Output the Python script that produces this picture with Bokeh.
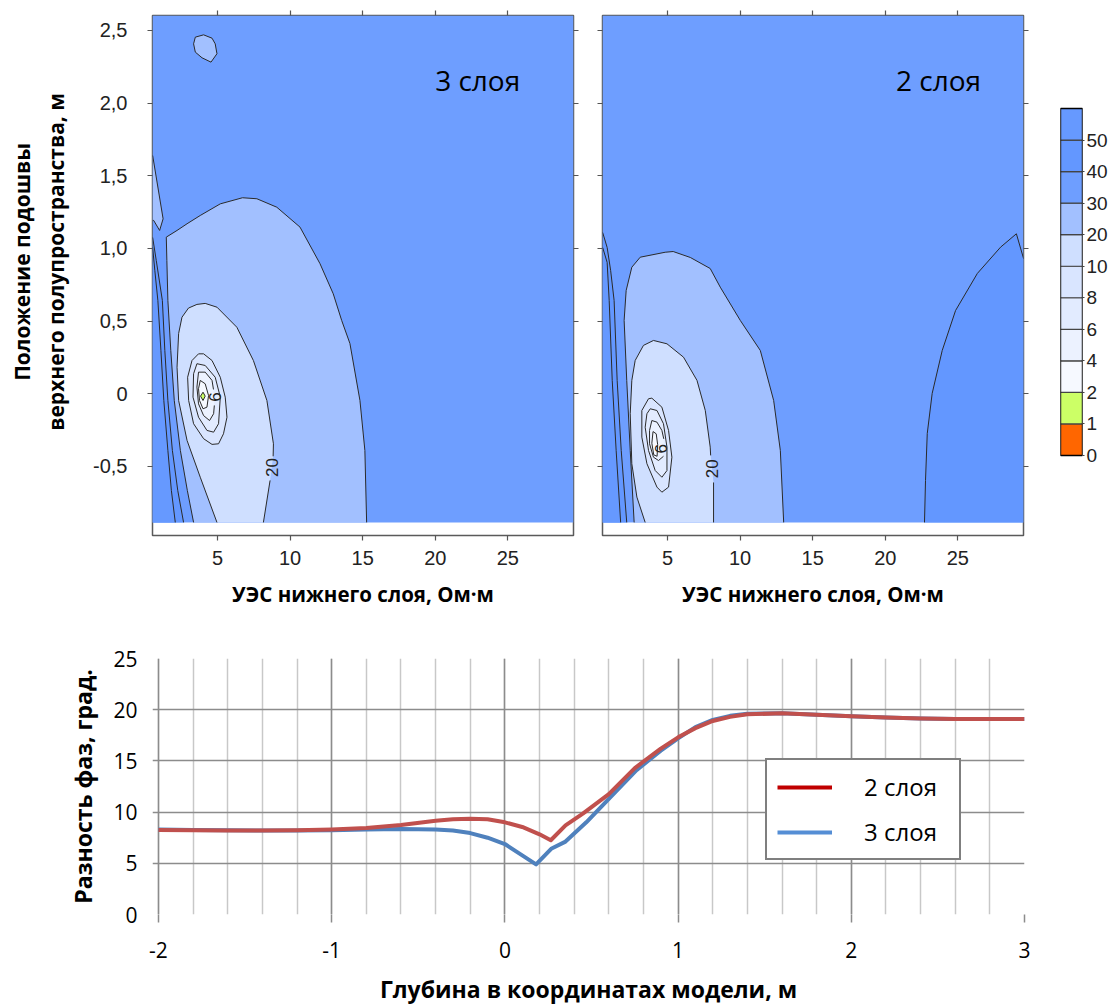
import math
from bokeh.plotting import figure
from bokeh.models import Range1d, LinearAxis, FixedTicker, Legend, LegendItem
from bokeh.layouts import row, column
from bokeh.embed import file_html
from bokeh.resources import INLINE
from bokeh.core.properties import value

# ------------------------------------------------------------------ data
# top panels: axes
rho_ticks = [5, 10, 15, 20, 25]
pos_ticks = [-0.5, 0.0, 0.5, 1.0, 1.5, 2.0, 2.5]
pos_tick_labels = ["-0,5", "0", "0,5", "1,0", "1,5", "2,0", "2,5"]
RHO_LO, RHO_HI = 0.52, 29.52
POS_LO, POS_HI = -0.975, 2.603
POS_DATA_BOTTOM = -0.885
panel_titles = ["3 слоя", "2 слоя"]

# colour scale: band i lies between level_labels[i] and level_labels[i+1] (last band: > 50)
level_labels = ["0", "1", "2", "4", "6", "8", "10", "20", "30", "40", "50"]
band_colors = ["#FF6600", "#CCFF66", "#F6F9FF", "#ECF2FF", "#E2EBFF", "#D9E5FF",
               "#CFDFFF", "#A2C0FF", "#6E9EFF", "#6397FF", "#6699FF"]

# ---- 3 layers: contour lines (resistivity, position)
c3_l50_x = [0.53, 0.68, 0.89, 1.10, 1.30, 1.58, 1.82, 2.09]
c3_l50_y = [1.007, 0.849, 0.642, 0.298, -0.046, -0.390, -0.665, -0.885]
c3_l40_x = [0.53, 0.78, 1.20, 1.37, 1.58, 1.89, 2.26, 2.66]
c3_l40_y = [1.076, 0.917, 0.642, 0.298, -0.046, -0.390, -0.665, -0.885]
c3_sliver_x = [0.53, 1.25, 1.01, 0.60, 0.53]
c3_sliver_y = [1.640, 1.204, 1.124, 1.193, 1.193]
c3_island_x = [3.47, 4.04, 4.62, 4.84, 4.96, 4.55, 3.93, 3.47, 3.35]
c3_island_y = [2.454, 2.470, 2.447, 2.408, 2.340, 2.282, 2.312, 2.351, 2.408]
c3_l30_x = [3.35, 2.92, 2.44, 2.02, 1.78, 1.58, 1.51, 1.47, 2.21, 2.90, 3.81, 5.19, 6.72,
            7.71, 9.08, 10.68, 12.06, 12.97, 13.55, 14.12, 14.81, 15.15, 15.27]
c3_l30_y = [-0.885, -0.665, -0.390, -0.046, 0.298, 0.642, 0.917, 1.078, 1.124, 1.170, 1.227,
            1.307, 1.349, 1.342, 1.284, 1.147, 0.895, 0.688, 0.505, 0.346, -0.046, -0.390, -0.885]
c3_l20_x = [4.96, 3.81, 2.90, 2.32, 2.21, 2.32, 2.55, 3.00, 3.58, 4.15, 4.96, 6.33, 7.47,
            8.40, 8.85, 8.83, 8.62, 8.16]
c3_l20_y = [-0.885, -0.574, -0.321, -0.046, 0.183, 0.415, 0.527, 0.590, 0.615, 0.622, 0.596,
            0.458, 0.229, -0.046, -0.344, -0.430, -0.596, -0.885]
c3_l10_x = [3.69, 4.04, 4.62, 5.19, 5.53, 5.65, 5.41, 5.07, 4.62, 4.04, 3.35, 3.01, 2.94, 3.24]
c3_l10_y = [0.275, 0.275, 0.229, 0.114, -0.023, -0.161, -0.275, -0.344, -0.348, -0.309,
            -0.206, -0.046, 0.114, 0.229]
c3_l8_x = [3.58, 4.15, 4.84, 5.19, 5.07, 4.73, 4.27, 3.69, 3.31, 3.35]
c3_l8_y = [0.207, 0.195, 0.114, -0.023, -0.206, -0.264, -0.252, -0.161, -0.023, 0.138]
c3_l6_x = [3.69, 4.15, 4.62, 4.72, 4.78, 4.73, 4.45, 4.04, 3.69, 3.58]
c3_l6_y = [0.149, 0.149, 0.092, 0.030, -0.080, -0.137, -0.184, -0.150, -0.069, 0.046]
c3_l4_x = [3.81, 4.15, 4.38, 4.27, 4.00, 3.76, 3.69]
c3_l4_y = [0.092, 0.069, -0.012, -0.092, -0.103, -0.046, 0.035]
c3_l2_x = [4.00, 4.15, 4.00, 3.83]
c3_l2_y = [0.011, -0.016, -0.046, -0.016]

# ---- 2 layers
c2_l50_x = [0.53, 0.84, 0.98, 1.19, 1.46, 1.77]
c2_l50_y = [1.007, 0.904, 0.642, 0.092, -0.390, -0.885]
c2_l40_x = [0.53, 0.84, 1.08, 1.32, 1.53, 1.81, 2.19]
c2_l40_y = [1.110, 1.007, 0.849, 0.642, 0.092, -0.390, -0.885]
c2_l30_x = [2.70, 2.43, 2.19, 2.01, 2.15, 2.54, 3.12, 4.84, 5.39, 6.57, 7.94, 8.63, 10.01,
            11.39, 12.31, 12.77, 13.00]
c2_l30_y = [-0.885, -0.390, 0.092, 0.505, 0.711, 0.871, 0.940, 0.974, 0.979, 0.938, 0.862,
            0.734, 0.505, 0.298, -0.046, -0.390, -0.885]
c2_l20_x = [3.46, 2.89, 2.54, 2.43, 2.54, 2.77, 3.34, 4.03, 4.96, 6.10, 7.03, 7.60, 7.94,
            7.97, 8.17, 8.17]
c2_l20_y = [-0.885, -0.711, -0.481, -0.137, 0.092, 0.229, 0.333, 0.367, 0.344, 0.252, 0.092,
            -0.115, -0.367, -0.424, -0.610, -0.885]
c2_l10_x = [3.69, 3.92, 4.61, 5.07, 5.30, 5.07, 4.61, 4.27, 3.58, 3.23, 3.23]
c2_l10_y = [-0.034, -0.030, -0.092, -0.252, -0.436, -0.642, -0.677, -0.642, -0.481, -0.298, -0.115]
c2_l8_x = [3.81, 4.27, 4.72, 4.96, 4.96, 4.61, 4.15, 3.69, 3.46, 3.58]
c2_l8_y = [-0.103, -0.115, -0.206, -0.367, -0.528, -0.574, -0.528, -0.390, -0.230, -0.137]
c2_l6_x = [3.92, 4.27, 4.61, 4.74, 4.72, 4.38, 4.03, 3.76, 3.76]
c2_l6_y = [-0.184, -0.195, -0.252, -0.310, -0.430, -0.459, -0.436, -0.344, -0.252]
c2_l4_x = [4.00, 4.22, 4.32, 4.28, 4.05, 3.92]
c2_l4_y = [-0.260, -0.275, -0.350, -0.430, -0.420, -0.340]
c2_r40_x = [22.70, 22.77, 22.89, 23.23, 23.92, 24.84, 26.34, 27.94, 29.03, 29.53]
c2_r40_y = [-0.885, -0.596, -0.273, 0.003, 0.298, 0.573, 0.828, 1.009, 1.101, 0.929]

# contour labels
c3_label_text = ["20", "6"]
c3_label_x = [8.74, 4.83]
c3_label_y = [-0.507, -0.023]
c2_label_text = ["20", "6"]
c2_label_x = [8.06, 4.55]
c2_label_y = [-0.516, -0.378]

# ---- bottom chart
depth_ticks = [-2, -1, 0, 1, 2, 3]
depth_tick_labels = ["-2", "-1", "0", "1", "2", "3"]
phase_ticks = [0, 5, 10, 15, 20, 25]
depth_2l = [-2.0, -1.8, -1.6, -1.4, -1.2, -1.0, -0.8, -0.6, -0.4, -0.3, -0.2, -0.1, 0.0, 0.1,
            0.2, 0.265, 0.35, 0.45, 0.6, 0.75, 0.9, 1.0, 1.1, 1.2, 1.3, 1.4, 1.6, 1.8, 2.0,
            2.2, 2.4, 2.6, 2.8, 3.0]
phase_2l = [8.25, 8.22, 8.2, 8.2, 8.22, 8.3, 8.45, 8.75, 9.15, 9.3, 9.35, 9.3, 9.0, 8.55,
            7.83, 7.25, 8.7, 9.85, 11.75, 14.3, 16.2, 17.3, 18.2, 18.9, 19.3, 19.55, 19.65,
            19.5, 19.35, 19.25, 19.15, 19.1, 19.1, 19.1]
depth_3l = [-2.0, -1.8, -1.6, -1.4, -1.2, -1.0, -0.8, -0.6, -0.4, -0.3, -0.2, -0.1, 0.0, 0.08,
            0.18, 0.27, 0.35, 0.47, 0.6, 0.76, 0.9, 1.0, 1.1, 1.2, 1.3, 1.4, 1.6, 1.8, 2.0,
            2.2, 2.4, 2.6, 2.8, 3.0]
phase_3l = [8.3, 8.25, 8.22, 8.2, 8.2, 8.22, 8.3, 8.35, 8.3, 8.2, 7.95, 7.5, 6.88, 6.0,
            4.9, 6.45, 7.12, 9.0, 11.3, 14.1, 16.0, 17.2, 18.3, 19.0, 19.4, 19.6, 19.65,
            19.5, 19.35, 19.25, 19.15, 19.1, 19.1, 19.1]
series_names = ["2 слоя", "3 слоя"]

# ------------------------------------------------------------------ styling helpers
LINE_C = "#2A2A2A"
AX_FONT = value("Liberation Sans")
CAL = "Open Sans"
TOP_B, FRAME_H, BOT_B = 15, 520, 75
NB = "\u00a0" * 5   # shifts the rotated two-line title up a little


def style_axis(ax, ticks, show_labels):
    ax.axis_line_color = None
    ax.major_tick_line_color = "#555555"
    ax.major_tick_line_width = 1.2
    ax.major_tick_out = 5
    ax.major_tick_in = 0
    ax.minor_tick_line_color = None
    ax.major_label_text_font = "Liberation Sans"
    ax.major_label_text_color = "#222222"
    if show_labels:
        ax.major_label_text_font_size = "20px"
    else:
        ax.major_label_overrides = {t: "" for t in ticks}
        ax.major_label_text_font_size = "1px"
        ax.major_label_standoff = 0


def add_region(p, xs, ys, band, extra_x=(), extra_y=(), closed=False, gap=None):
    fx = list(xs) + list(extra_x)
    fy = list(ys) + list(extra_y)
    p.patch(fx, fy, fill_color=band_colors[band], line_color=None)
    lx, ly = list(xs), list(ys)
    if gap is not None:
        lx.insert(gap + 1, float("nan"))
        ly.insert(gap + 1, float("nan"))
    if closed:
        lx.append(xs[0])
        ly.append(ys[0])
    p.line(lx, ly, line_color=LINE_C, line_width=1)


def top_panel(show_left_labels, left_border, right_border):
    p = figure(frame_width=421, frame_height=FRAME_H,
               x_range=Range1d(RHO_LO, RHO_HI), y_range=Range1d(POS_LO, POS_HI),
               x_axis_type=None, y_axis_type=None,
               output_backend="svg", toolbar_location=None,
               min_border_left=left_border, min_border_right=right_border,
               min_border_top=TOP_B, min_border_bottom=BOT_B)
    p.outline_line_color = "#5A5A5A"
    p.outline_line_width = 1.5
    p.background_fill_color = "white"
    for loc, show in (("below", True), ("above", False)):
        ax = LinearAxis(ticker=FixedTicker(ticks=rho_ticks))
        style_axis(ax, rho_ticks, show)
        if show:
            ax.major_label_standoff = 10
            ax.axis_label = "УЭС нижнего слоя, Ом·м"
            ax.axis_label_text_font = CAL
            ax.axis_label_text_font_style = "bold"
            ax.axis_label_text_font_size = "20.5px"
            ax.axis_label_text_color = "black"
            ax.axis_label_standoff = 12
        p.add_layout(ax, loc)
    for loc, show in (("left", show_left_labels), ("right", False)):
        ax = LinearAxis(ticker=FixedTicker(ticks=pos_ticks))
        style_axis(ax, pos_ticks, show)
        if show:
            ax.major_label_overrides = dict(zip(pos_ticks, pos_tick_labels))
            ax.major_label_standoff = 20
            ax.axis_label = NB + "Положение подошвы\n" + NB + "верхнего полупространства, м"
            ax.axis_label_text_font = CAL
            ax.axis_label_text_font_style = "bold"
            ax.axis_label_text_font_size = "21px"
            ax.axis_label_text_color = "black"
            ax.axis_label_standoff = 20
        p.add_layout(ax, loc)
    # base band (30-40)
    p.quad(left=RHO_LO, right=RHO_HI, bottom=POS_DATA_BOTTOM, top=POS_HI,
           fill_color=band_colors[8], line_color=None)
    return p


# ------------------------------------------------------------------ panel: 3 layers
p1 = top_panel(True, 152, 14)
add_region(p1, c3_l40_x, c3_l40_y, 9, [RHO_LO], [POS_DATA_BOTTOM])
add_region(p1, c3_l50_x, c3_l50_y, 10, [RHO_LO], [POS_DATA_BOTTOM])
add_region(p1, c3_sliver_x, c3_sliver_y, 7)
add_region(p1, c3_island_x, c3_island_y, 7, closed=True)
add_region(p1, c3_l30_x, c3_l30_y, 7)
add_region(p1, c3_l20_x, c3_l20_y, 6, gap=15)
add_region(p1, c3_l10_x, c3_l10_y, 5, closed=True)
add_region(p1, c3_l8_x, c3_l8_y, 4, closed=True)
add_region(p1, c3_l6_x, c3_l6_y, 3, closed=True, gap=3)
add_region(p1, c3_l4_x, c3_l4_y, 2, closed=True)
add_region(p1, c3_l2_x, c3_l2_y, 1, closed=True)
p1.text(x=c3_label_x, y=c3_label_y, text=c3_label_text, angle=math.pi / 2,
        text_font=AX_FONT, text_font_size="17px", text_color="#222222",
        text_align="center", text_baseline="middle")
p1.text(x=[22.92], y=[2.156], text=[panel_titles[0]], text_font=value(CAL),
        text_font_size="28px", text_color="black", text_align="center",
        text_baseline="middle")

# ------------------------------------------------------------------ panel: 2 layers
p2 = top_panel(False, 15, 7)
add_region(p2, c2_l40_x, c2_l40_y, 9, [RHO_LO], [POS_DATA_BOTTOM])
add_region(p2, c2_l50_x, c2_l50_y, 10, [RHO_LO], [POS_DATA_BOTTOM])
add_region(p2, c2_r40_x, c2_r40_y, 9, [RHO_HI], [POS_DATA_BOTTOM])
add_region(p2, c2_l30_x, c2_l30_y, 7)
add_region(p2, c2_l20_x, c2_l20_y, 6, gap=13)
add_region(p2, c2_l10_x, c2_l10_y, 5, closed=True)
add_region(p2, c2_l8_x, c2_l8_y, 4, closed=True)
add_region(p2, c2_l6_x, c2_l6_y, 3, closed=True, gap=3)
add_region(p2, c2_l4_x, c2_l4_y, 2, closed=True)
p2.text(x=c2_label_x, y=c2_label_y, text=c2_label_text, angle=math.pi / 2,
        text_font=AX_FONT, text_font_size="17px", text_color="#222222",
        text_align="center", text_baseline="middle")
p2.text(x=[23.67], y=[2.156], text=[panel_titles[1]], text_font=value(CAL),
        text_font_size="28px", text_color="black", text_align="center",
        text_baseline="middle")

# ------------------------------------------------------------------ colour key
n_bands = len(band_colors)
band_px = 347.0 / n_bands          # pixel height of one band
key_top_px, key_bot_px = 93.0, 80.0  # gaps between frame edges and the key box
p3 = figure(frame_width=22, frame_height=FRAME_H, x_range=Range1d(0, 1),
            y_range=Range1d(-key_bot_px / band_px, n_bands + key_top_px / band_px),
            x_axis_type=None, y_axis_type=None,
            output_backend="svg", toolbar_location=None,
            min_border_left=30, min_border_right=26, min_border_top=TOP_B,
            min_border_bottom=BOT_B)
p3.outline_line_color = None
p3.quad(left=0, right=1, bottom=list(range(n_bands)), top=[i + 1 for i in range(n_bands)],
        fill_color=band_colors, line_color="#444444", line_width=1.2)
p3.quad(left=0, right=1, bottom=0, top=n_bands, fill_color=None, line_color="black",
        line_width=1.3)
kax = LinearAxis(ticker=FixedTicker(ticks=list(range(len(level_labels)))),
                 major_label_overrides={i: t for i, t in enumerate(level_labels)})
kax.axis_line_color = None
kax.major_tick_line_color = "#444444"
kax.major_tick_out = 2
kax.major_tick_in = 0
kax.minor_tick_line_color = None
kax.major_label_standoff = 2
kax.major_label_text_font = "Liberation Sans"
kax.major_label_text_font_size = "19px"
kax.major_label_text_color = "#222222"
p3.add_layout(kax, "right")

# ------------------------------------------------------------------ bottom chart
# frame starts a few pixels left of -2 so that the horizontal grid lines stick out like ticks
p4 = figure(frame_width=872, frame_height=256, x_range=Range1d(-2.0346, 3),
            y_range=Range1d(0, 25),
            output_backend="svg", toolbar_location=None,
            min_border_left=152, min_border_right=84, min_border_top=48, min_border_bottom=91)
p4.outline_line_color = None
minor_depth = [round(-2 + 0.2 * i, 1) for i in range(26)]
p4.xaxis.ticker = FixedTicker(ticks=depth_ticks, minor_ticks=minor_depth)
p4.xaxis.major_label_overrides = dict(zip(depth_ticks, depth_tick_labels))
p4.yaxis.ticker = FixedTicker(ticks=phase_ticks)
p4.xgrid.grid_line_color = "#8C8C8C"
p4.xgrid.grid_line_width = 1.5
p4.xgrid.minor_grid_line_color = "#C8C8C8"
p4.xgrid.minor_grid_line_width = 1.5
p4.ygrid.grid_line_color = "#8C8C8C"
p4.ygrid.grid_line_width = 1.5
for ax in (p4.xaxis[0], p4.yaxis[0]):
    ax.axis_line_color = None
    ax.major_tick_line_color = "#8C8C8C"
    ax.major_tick_line_width = 1.5
    ax.major_tick_out = 8
    ax.major_tick_in = 0
    ax.minor_tick_line_color = None
    ax.major_label_text_font = CAL
    ax.major_label_text_font_size = "21px"
    ax.major_label_text_color = "black"
    ax.axis_label_text_font = CAL
    ax.axis_label_text_font_style = "bold"
    ax.axis_label_text_font_size = "23px"
    ax.axis_label_text_color = "black"
p4.yaxis.major_tick_out = 0
p4.xaxis.major_label_standoff = 19
p4.xaxis.axis_label_standoff = 12
p4.xaxis.axis_label = "Глубина в координатах модели, м"
p4.yaxis.major_label_standoff = 15
p4.yaxis.axis_label_standoff = 11
p4.yaxis.axis_label = "Разность фаз, град."

p4.line(depth_3l, phase_3l, line_color="#4F81BD", line_width=4, line_join="round")
p4.line(depth_2l, phase_2l, line_color="#C0504D", line_width=4, line_join="round")
nan = float("nan")
leg_r = p4.line([nan], [nan], line_color="#C00000", line_width=4)
leg_b = p4.line([nan], [nan], line_color="#558ED5", line_width=4)
legend = Legend(items=[LegendItem(label=series_names[0], renderers=[leg_r]),
                       LegendItem(label=series_names[1], renderers=[leg_b])],
                location=(613, 54))
legend.border_line_color = "black"
legend.border_line_width = 2
legend.background_fill_color = "white"
legend.background_fill_alpha = 1
legend.padding = 10
legend.spacing = 12
legend.margin = 0
legend.glyph_width = 55
legend.glyph_height = 30
legend.label_height = 30
legend.label_width = 85
legend.label_standoff = 32
legend.label_text_font = CAL
legend.label_text_font_size = "24px"
legend.label_text_color = "black"
p4.add_layout(legend)

layout = column(row(p1, p2, p3), p4)
open("out.html", "w").write(file_html(layout, INLINE))
